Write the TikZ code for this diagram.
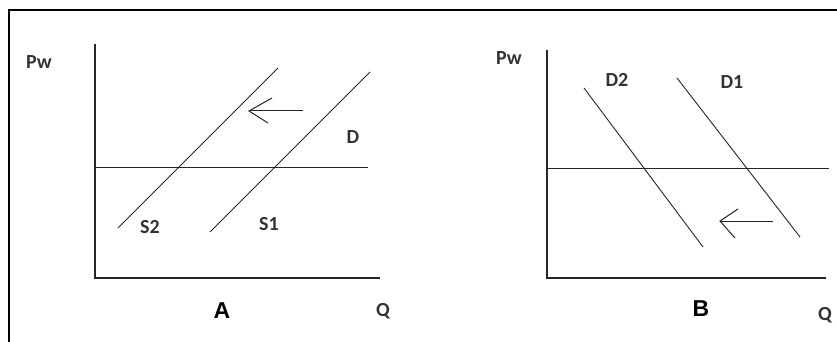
\documentclass[tikz,border=0pt]{standalone}
\usepackage{fontspec}
\setmainfont{Carlito}
\newfontfamily\arialfont{Liberation Sans}
\begin{document}
\begin{tikzpicture}[x=1pt,y=-1pt,
  axis/.style={line width=1.3pt,black!85},
  curve/.style={line width=0.9pt,black!85},
  shiftarrow/.style={line width=1pt,black!85},
  lbl/.style={font=\bfseries\fontsize{20}{20}\selectfont,text=black!80,inner sep=0pt},
  panel/.style={font=\arialfont\bfseries\fontsize{23}{23}\selectfont,inner sep=0pt}]
\useasboundingbox (0,0) rectangle (837,342);
% frame (top and left only)
\draw[line width=2pt] (9,342) -- (9,10) -- (837,10);
% ---------- Panel A ----------
\coordinate (aTop) at (95,44);
\coordinate (aO) at (95,278);
\coordinate (aX) at (380,278);
\draw[axis] (aTop) -- (aO) -- (aX);
\coordinate (aH1) at (95,167);
\coordinate (aH2) at (368,167);
\draw[curve] (aH1) -- (aH2);
\coordinate (s2a) at (118,228);
\coordinate (s2b) at (278,68);
\draw[curve] (s2a) -- (s2b);
\coordinate (s1a) at (210,232);
\coordinate (s1b) at (370,72);
\draw[curve] (s1a) -- (s1b);
\coordinate (arA1) at (303,111);
\coordinate (arA2) at (249,111);
\coordinate (arAu) at (272,98);
\coordinate (arAd) at (268,123);
\draw[shiftarrow] (arA1) -- (arA2);
\draw[shiftarrow] (arAu) -- (arA2) -- (arAd);
\node[lbl] (pwA) at (39,62) {Pw};
\node[lbl] (dA) at (353,137) {D};
\node[lbl] (s2) at (150,227) {S2};
\node[lbl] (s1) at (269,224) {S1};
\node[panel] (A) at (222,311) {A};
\node[lbl] (qA) at (383,311) {Q};
% ---------- Panel B ----------
\coordinate (bTop) at (547,50);
\coordinate (bO) at (547,278);
\coordinate (bX) at (826,278);
\draw[axis] (bTop) -- (bO) -- (bX);
\coordinate (bH1) at (547,168);
\coordinate (bH2) at (829,168);
\draw[curve] (bH1) -- (bH2);
\coordinate (d2a) at (584,88);
\coordinate (d2b) at (703,247);
\draw[curve] (d2a) -- (d2b);
\coordinate (d1a) at (677,78);
\coordinate (d1b) at (800,237);
\draw[curve] (d1a) -- (d1b);
\coordinate (arB1) at (773,221);
\coordinate (arB2) at (720,221);
\coordinate (arBu) at (738,209);
\coordinate (arBd) at (735,238);
\draw[shiftarrow] (arB1) -- (arB2);
\draw[shiftarrow] (arBu) -- (arB2) -- (arBd);
\node[lbl] (pwB) at (509,58) {Pw};
\node[lbl] (d2) at (617,80) {D2};
\node[lbl] (d1) at (732,82) {D1};
\node[panel] (B) at (701,309) {B};
\node[lbl] (qB) at (825,315) {Q};
\end{tikzpicture}
\end{document}
